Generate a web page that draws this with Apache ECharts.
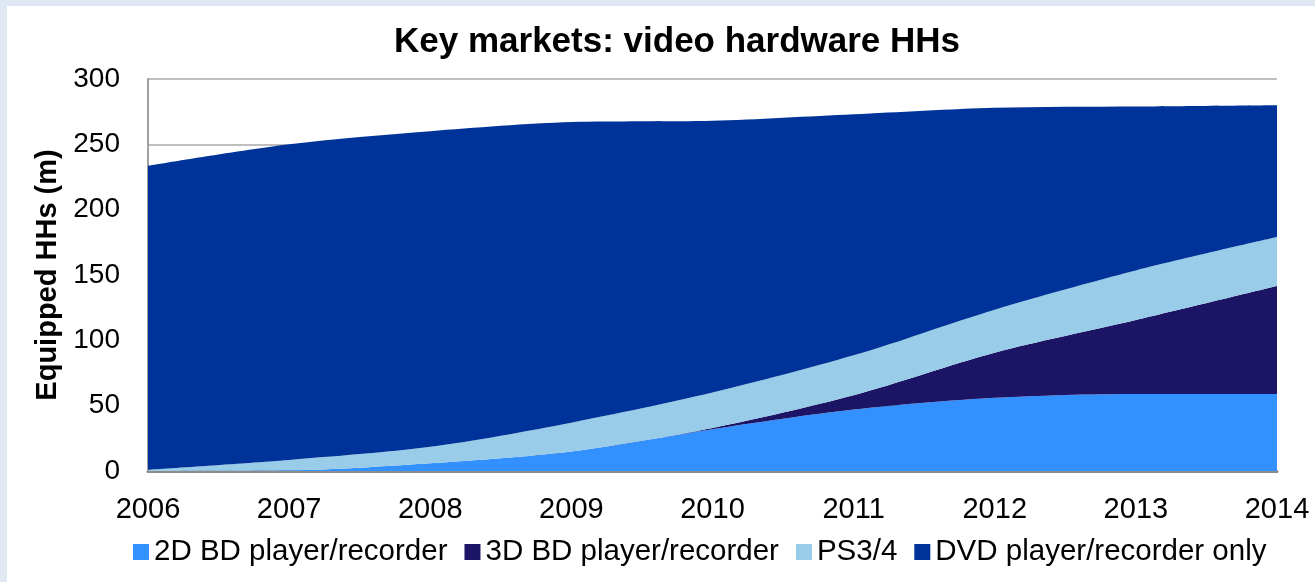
<!DOCTYPE html>
<html>
<head>
<meta charset="utf-8">
<script src="https://cdn.jsdelivr.net/npm/echarts@6/dist/echarts.min.js"></script>
<style>
html,body{margin:0;padding:0;width:1315px;height:582px;overflow:hidden;background:#dfe8f3;}
#bg{position:absolute;left:7px;top:6px;right:0;bottom:0;background:#ffffff;}
#chart{position:absolute;left:0;top:0;width:1315px;height:582px;}
</style>
</head>
<body>
<div id="bg"></div>
<div id="chart"></div>
<script>
var years = ['2006','2007','2008','2009','2010','2011','2012','2013','2014'];
var bd2d = [0, 0.5, 6, 15, 32, 47, 56, 59, 59];
var bd3d = [0, 0, 0, 0, 1, 11, 34.5, 56.5, 82.5];
var ps34 = [1, 8, 12.5, 22, 27, 30.5, 33, 38, 37.5];
var dvdOnly = [232.5, 241.5, 241.5, 230, 208, 184.5, 154.5, 125.5, 101];
var seriesNames = ['2D BD player/recorder','3D BD player/recorder','PS3/4','DVD player/recorder only'];
var seriesColors = ['#3390ff','#1c1464','#99cce8','#003399'];
var seriesData = [bd2d, bd3d, ps34, dvdOnly];

var font = 'Liberation Sans, Arial, sans-serif';
var chart = echarts.init(document.getElementById('chart'), null, {renderer:'canvas'});
var series = seriesNames.map(function(n, i){
  return {
    name: n, type: 'line', stack: 'total', data: seriesData[i],
    smooth: 0.3, showSymbol: false, symbol: 'none',
    lineStyle: {width: 0}, itemStyle: {color: seriesColors[i]},
    areaStyle: {color: seriesColors[i], opacity: 1}
  };
});
chart.setOption({
  animation: false,
  title: {
    text: 'Key markets: video hardware HHs', left: 389, top: 20,
    textStyle: {fontFamily: font, fontSize: 35, fontWeight: 'bold', color: '#000'}
  },
  legend: {
    data: seriesNames.map(function(n){return {name:n, icon:'rect'};}),
    left: 128, top: 532, itemWidth: 16, itemHeight: 16, itemGap: 17,
    textStyle: {fontFamily: font, fontSize: 29.5, color: '#000'}
  },
  grid: {left: 148, top: 79, right: 38, bottom: 111, containLabel: false},
  xAxis: {
    type: 'category', data: years, boundaryGap: false,
    axisLine: {show: true, lineStyle: {color: '#8c8c8c', width: 3}},
    axisTick: {show: false},
    axisLabel: {fontFamily: font, fontSize: 29, color: '#000', margin: 24}
  },
  yAxis: {
    type: 'value', min: 0, max: 300, interval: 50,
    name: 'Equipped HHs (m)', nameLocation: 'middle', nameGap: 80, nameRotate: 90,
    nameTextStyle: {fontFamily: font, fontSize: 29, fontWeight: 'bold', color: '#000'},
    axisLine: {show: true, lineStyle: {color: '#a0a0a0', width: 2}},
    axisTick: {show: false},
    splitLine: {show: true, lineStyle: {color: '#aaaaaa', width: 1.5}},
    axisLabel: {fontFamily: font, fontSize: 28, color: '#000', margin: 28}
  },
  series: series
});
</script>
</body>
</html>
